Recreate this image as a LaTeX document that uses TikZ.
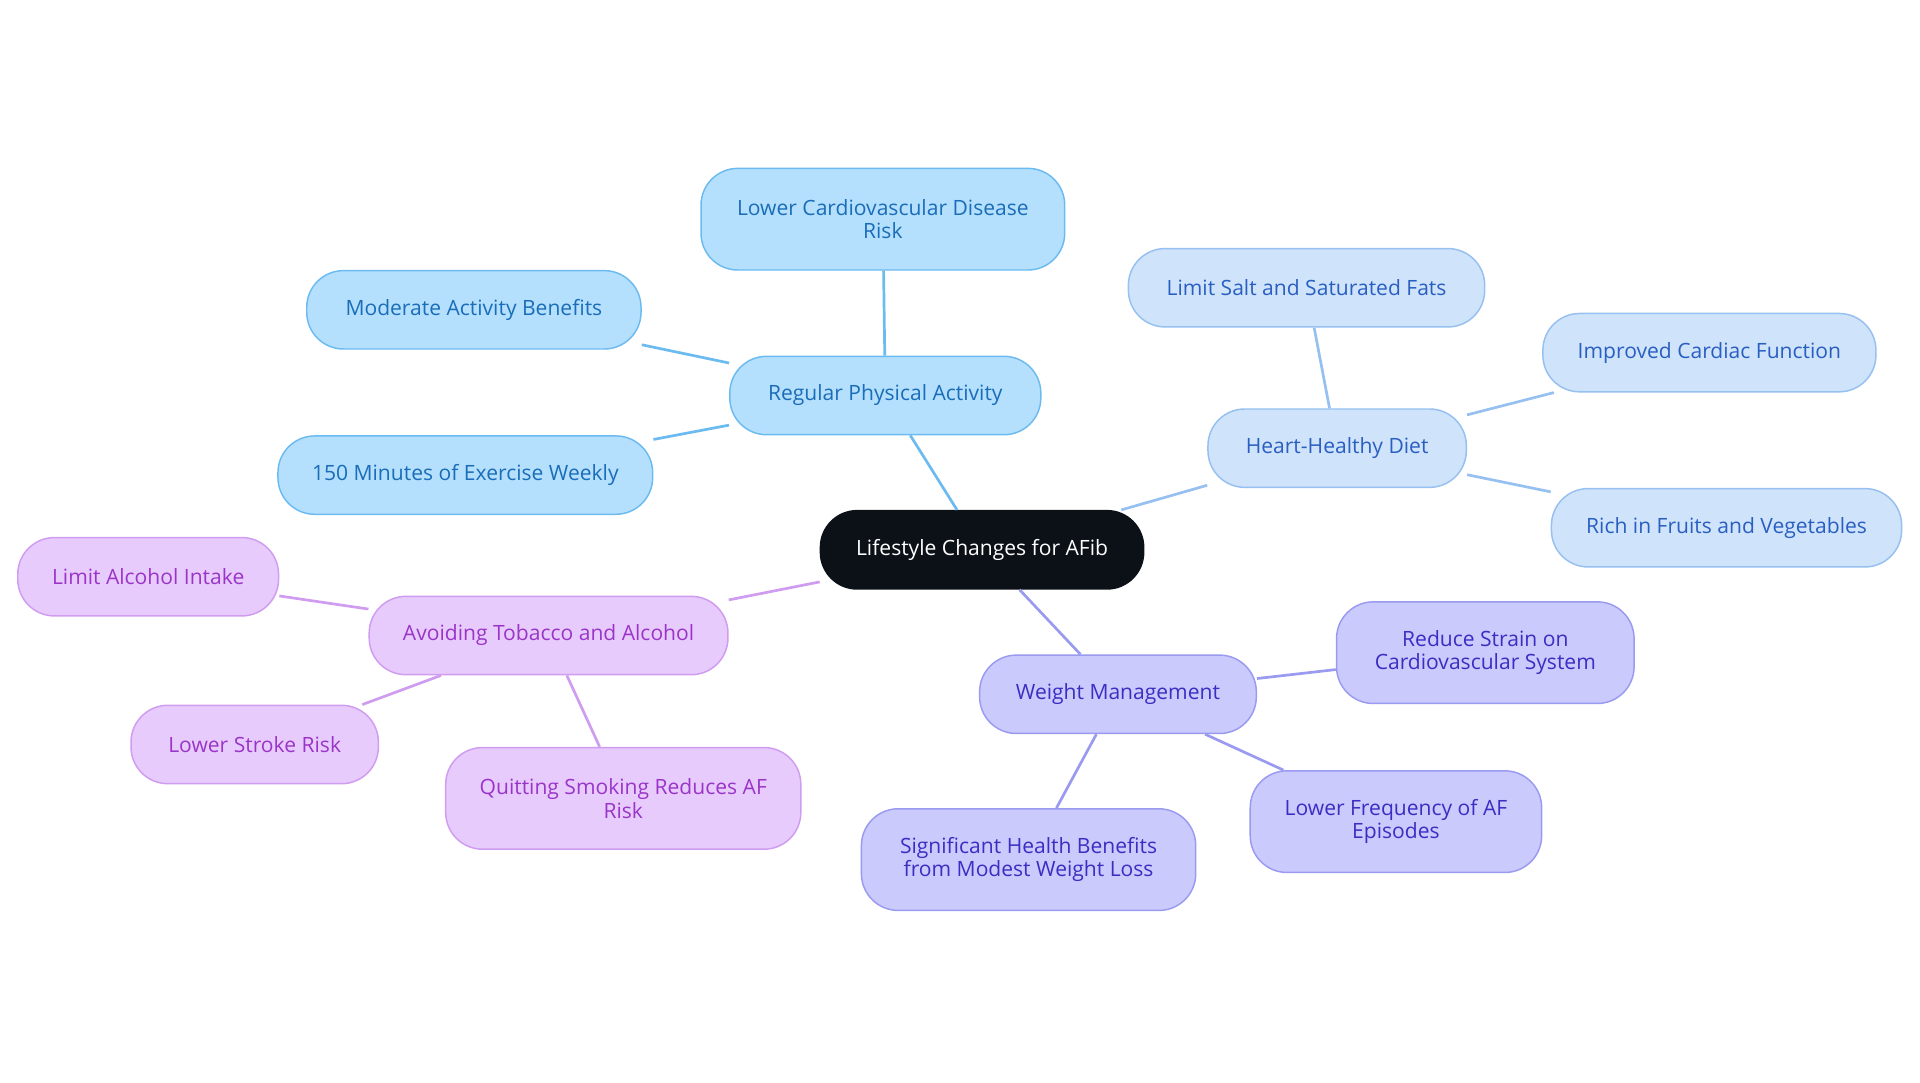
\documentclass[tikz,border=0pt]{standalone}
\usepackage{fontspec}
\setmainfont{Open Sans}
\begin{document}
\begin{tikzpicture}[x=0.5pt,y=-0.5pt,
  base/.style={rounded corners=15pt,draw,line width=0.6pt,align=center,font=\fontsize{8.6}{9.6}\selectfont,inner sep=0pt},
  rootn/.style={base,fill=rootc,draw=rootc,text=white},
  bl/.style={base,fill=blf,draw=bld,text=blt},
  lb/.style={base,fill=lbf,draw=lbd,text=lbt},
  pu/.style={base,fill=puf,draw=pud,text=put},
  pk/.style={base,fill=pkf,draw=pkd,text=pkt},
  sz/.style 2 args={minimum width=#1*0.5pt,minimum height=#2*0.5pt},
  e/.style={line width=1.1pt}]
\definecolor{rootc}{HTML}{0C1118}
\definecolor{blf}{HTML}{B5E0FD}\definecolor{bld}{HTML}{6CBBF0}\definecolor{blt}{HTML}{1A6DB8}
\definecolor{lbf}{HTML}{CFE3FB}\definecolor{lbd}{HTML}{96C0F0}\definecolor{lbt}{HTML}{2A5FC2}
\definecolor{puf}{HTML}{CACAFD}\definecolor{pud}{HTML}{9A9AF0}\definecolor{put}{HTML}{3A2FC2}
\definecolor{pkf}{HTML}{E8CBFD}\definecolor{pkd}{HTML}{D09CF0}\definecolor{pkt}{HTML}{9A35C8}
\useasboundingbox (0,0) rectangle (1568,884);
\node[rootn,sz={264}{64}] (r) at (802,449) {Lifestyle Changes for AFib};
\node[bl,sz={254}{64}] (a) at (723,323) {Regular Physical Activity};
\node[bl,sz={297}{83}] (a1) at (721,179) {Lower Cardiovascular Disease\\Risk};
\node[bl,sz={273}{64}] (a2) at (387,253) {Moderate Activity Benefits};
\node[bl,sz={306}{64}] (a3) at (380,388) {150 Minutes of Exercise Weekly};
\node[lb,sz={211}{64}] (b) at (1092,366) {Heart-Healthy Diet};
\node[lb,sz={291}{64}] (b1) at (1067,235) {Limit Salt and Saturated Fats};
\node[lb,sz={272}{64}] (b2) at (1396,288) {Improved Cardiac Function};
\node[lb,sz={286}{64}] (b3) at (1410,431) {Rich in Fruits and Vegetables};
\node[pu,sz={226}{64}] (c) at (913,567) {Weight Management};
\node[pu,sz={243}{83}] (c1) at (1213,533) {Reduce Strain on\\Cardiovascular System};
\node[pu,sz={238}{83}] (c2) at (1140,671) {Lower Frequency of AF\\Episodes};
\node[pu,sz={273}{83}] (c3) at (840,702) {Significant Health Benefits\\from Modest Weight Loss};
\node[pk,sz={293}{64}] (d) at (448,519) {Avoiding Tobacco and Alcohol};
\node[pk,sz={213}{64}] (d1) at (121,471) {Limit Alcohol Intake};
\node[pk,sz={202}{64}] (d2) at (208,608) {Lower Stroke Risk};
\node[pk,sz={290}{83}] (d3) at (509,652) {Quitting Smoking Reduces AF\\Risk};
\begin{scope}[e,draw=bld]
\draw (r) -- (a); \draw (a) -- (a1); \draw (a) -- (a2); \draw (a) -- (a3);
\end{scope}
\begin{scope}[e,draw=lbd]
\draw (r) -- (b); \draw (b) -- (b1); \draw (b) -- (b2); \draw (b) -- (b3);
\end{scope}
\begin{scope}[e,draw=pud]
\draw (r) -- (c); \draw (c) -- (c1); \draw (c) -- (c2); \draw (c) -- (c3);
\end{scope}
\begin{scope}[e,draw=pkd]
\draw (r) -- (d); \draw (d) -- (d1); \draw (d) -- (d2); \draw (d) -- (d3);
\end{scope}
\end{tikzpicture}
\end{document}
